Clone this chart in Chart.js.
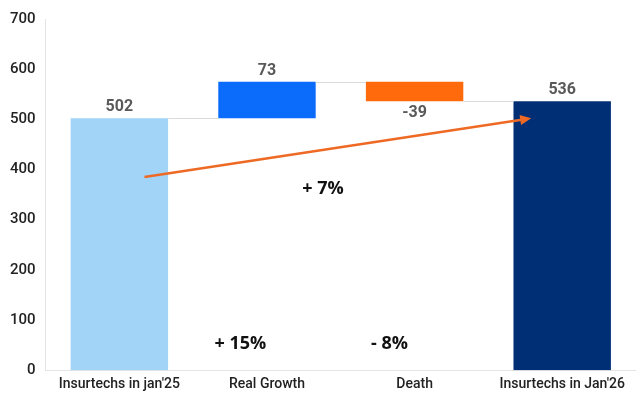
<!DOCTYPE html>
<html>
<head>
<meta charset="utf-8">
<script src="https://cdn.jsdelivr.net/npm/chart.js@4"></script>
<style>
  html, body { margin: 0; padding: 0; background: #ffffff; }
  #wrap { width: 636px; height: 399px; position: relative; }
</style>
</head>
<body>
<div id="wrap"><canvas id="c" width="636" height="399"></canvas></div>
<script>
// Waterfall: start count, yearly movements, end count
const categories = ["Insurtechs in jan'25", 'Real Growth', 'Death', "Insurtechs in Jan'26"];
const startCount = 502;
const movements = [73, -39];
const endCount = 536;
const valueLabels = ['502', '73', '-39', '536'];
const yTicks = [0, 100, 200, 300, 400, 500, 600, 700];

// Percentage call-outs: text, x (category index), y (axis value)
const noteTexts = ['+ 7%', '+ 15%', '- 8%'];
const noteX = [1.38, 0.82, 1.83];
const noteY = [362, 53, 53];

// Trend arrow endpoints: x (category index), y (axis value)
const arrowX = [0.17, 2.79];
const arrowY = [385, 502];

const barColors = ['#a2d4f7', '#0b6cfb', '#ff6a0d', '#002f76'];

// floating ranges for each bar
const ranges = [];
let running = startCount;
ranges.push([0, startCount]);
movements.forEach(m => {
  const next = running + m;
  ranges.push([Math.min(running, next), Math.max(running, next)]);
  running = next;
});
ranges.push([0, endCount]);

const waterfallExtras = {
  id: 'waterfallExtras',
  afterDatasetsDraw(chart) {
    const ctx = chart.ctx;
    const meta = chart.getDatasetMeta(0);
    const xs = chart.scales.x, ys = chart.scales.y;
    ctx.save();

    // connectors between consecutive bars
    ctx.strokeStyle = '#d9d9d9';
    ctx.lineWidth = 1;
    let level = startCount;
    const levels = [startCount];
    movements.forEach(m => { level += m; levels.push(level); });
    for (let i = 0; i < meta.data.length - 1; i++) {
      const a = meta.data[i], b = meta.data[i + 1];
      const y = Math.round(ys.getPixelForValue(levels[i])) + 0.5;
      ctx.beginPath();
      ctx.moveTo(a.x + a.width / 2, y);
      ctx.lineTo(b.x - b.width / 2, y);
      ctx.stroke();
    }

    // value labels
    ctx.font = 'bold 16px Roboto';
    ctx.fillStyle = '#595959';
    ctx.textAlign = 'center';
    meta.data.forEach((bar, i) => {
      const neg = i > 0 && i <= movements.length && movements[i - 1] < 0;
      if (neg) {
        ctx.textBaseline = 'top';
        ctx.fillText(valueLabels[i], bar.x, bar.base + 4);
      } else {
        ctx.textBaseline = 'bottom';
        ctx.fillText(valueLabels[i], bar.x, Math.min(bar.y, bar.base) - 3);
      }
    });

    // percentage notes
    ctx.font = 'bold 18px "Open Sans"';
    ctx.fillStyle = '#111111';
    ctx.textBaseline = 'middle';
    noteTexts.forEach((t, i) => {
      ctx.fillText(t, xs.getPixelForValue(noteX[i]), ys.getPixelForValue(noteY[i]));
    });

    // trend arrow
    const x1 = xs.getPixelForValue(arrowX[0]), y1 = ys.getPixelForValue(arrowY[0]);
    const x2 = xs.getPixelForValue(arrowX[1]), y2 = ys.getPixelForValue(arrowY[1]);
    const ang = Math.atan2(y2 - y1, x2 - x1);
    ctx.strokeStyle = '#ee6a24';
    ctx.fillStyle = '#ee6a24';
    ctx.lineWidth = 2.5;
    ctx.beginPath();
    ctx.moveTo(x1, y1);
    ctx.lineTo(x2 - 8 * Math.cos(ang), y2 - 8 * Math.sin(ang));
    ctx.stroke();
    ctx.beginPath();
    ctx.moveTo(x2, y2);
    ctx.lineTo(x2 - 11 * Math.cos(ang) + 5 * Math.sin(ang), y2 - 11 * Math.sin(ang) - 5 * Math.cos(ang));
    ctx.lineTo(x2 - 11 * Math.cos(ang) - 5 * Math.sin(ang), y2 - 11 * Math.sin(ang) + 5 * Math.cos(ang));
    ctx.closePath();
    ctx.fill();
    ctx.restore();
  }
};

new Chart(document.getElementById('c'), {
  type: 'bar',
  data: {
    labels: categories,
    datasets: [{
      data: ranges,
      backgroundColor: barColors,
      borderWidth: 0,
      borderSkipped: false,
      barPercentage: 0.66,
      categoryPercentage: 1.0
    }]
  },
  options: {
    responsive: false,
    animation: false,
    layout: { padding: { top: 8, right: 0, bottom: 0, left: 0 } },
    plugins: { legend: { display: false }, tooltip: { enabled: false } },
    scales: {
      x: {
        grid: { display: false, drawTicks: false },
        border: { color: '#e4e4e4' },
        ticks: { color: '#222222', font: { family: 'Roboto', size: 14, weight: '500' }, padding: 6, maxRotation: 0, autoSkip: false }
      },
      y: {
        min: 0, max: 700,
        afterBuildTicks(axis) { axis.ticks = yTicks.map(v => ({ value: v })); },
        grid: { display: false, drawTicks: false },
        border: { color: '#e4e4e4' },
        ticks: { color: '#222222', font: { family: 'Roboto', size: 15, weight: '500' }, padding: 10 }
      }
    }
  },
  plugins: [waterfallExtras]
});
</script>
</body>
</html>
